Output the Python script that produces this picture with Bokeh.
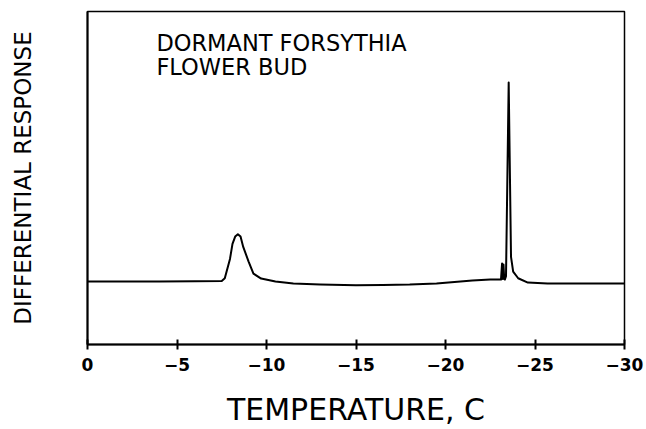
from bokeh.plotting import figure
from bokeh.models import Range1d, FixedTicker, Label
from bokeh.embed import file_html
from bokeh.resources import INLINE

# Temperature (C) and differential response (arbitrary units, 0-100 scale)
temperature = [0, -2, -4, -6, -7.5, -7.67, -7.96, -8.1, -8.25, -8.4, -8.55, -8.7, -9.0, -9.27,
               -9.7, -10.5, -11.5, -13, -15, -16.5, -18, -19.5, -20.5, -21.5, -22.5,
               -23.1, -23.16, -23.2, -23.24, -23.28, -23.32, -23.38, -23.53, -23.66,
               -23.78, -24.06, -24.6, -25.7, -27.5, -30]
response = [18.9, 18.9, 18.9, 19.0, 19.1, 19.9, 25.7, 30.2, 32.4, 33.1, 32.4, 29.3, 24.9, 21.3,
            19.8, 18.9, 18.3, 18.0, 17.8, 17.9, 18.0, 18.3, 18.8, 19.2, 19.5,
            19.5, 24.3, 19.7, 24.0, 19.7, 19.5, 20.5, 78.7, 26.3,
            21.9, 19.9, 18.6, 18.3, 18.3, 18.3]

tick_values = [0, -5, -10, -15, -20, -25, -30]
tick_labels = ["0", "\u22125", "\u221210", "\u221215", "\u221220", "\u221225", "\u221230"]

x_title = "TEMPERATURE, C"
y_title = "DIFFERENTIAL RESPONSE"
note_lines = ["DORMANT FORSYTHIA", "FLOWER BUD"]

FONT = "DejaVu Sans"

p = figure(width=646, height=429, output_backend="svg", toolbar_location=None,
           x_range=Range1d(0, -30), y_range=Range1d(0, 100),
           min_border_left=87, min_border_right=22, min_border_top=11, min_border_bottom=80)

p.line(temperature, response, line_color="black", line_width=2, line_join="round")

p.xgrid.visible = False
p.ygrid.visible = False
p.outline_line_color = "black"
p.outline_line_width = 1.5
p.outline_line_alpha = 1.0

xa = p.xaxis[0]
xa.ticker = FixedTicker(ticks=tick_values)
xa.major_label_overrides = {v: s for v, s in zip(tick_values, tick_labels)}
xa.minor_tick_line_color = None
xa.major_tick_in = 5
xa.major_tick_out = 5
xa.major_tick_line_width = 2
xa.major_tick_line_color = "black"
xa.axis_line_width = 2
xa.axis_line_color = "black"
xa.major_label_text_font = FONT
xa.major_label_text_font_style = "bold"
xa.major_label_text_font_size = "17px"
xa.major_label_text_color = "black"
xa.major_label_standoff = 8
xa.axis_label = x_title
xa.axis_label_text_font = FONT
xa.axis_label_text_font_style = "normal"
xa.axis_label_text_font_size = "30px"
xa.axis_label_text_color = "black"
xa.axis_label_standoff = 18

ya = p.yaxis[0]
ya.ticker = FixedTicker(ticks=[])
ya.minor_tick_line_color = None
ya.major_tick_line_color = None
ya.major_label_text_font_size = "0px"
ya.axis_line_width = 2
ya.axis_line_color = "black"
ya.axis_label = y_title
ya.axis_label_text_font = FONT
ya.axis_label_text_font_style = "normal"
ya.axis_label_text_font_size = "23px"
ya.axis_label_text_color = "black"
ya.axis_label_standoff = 52

for i, line in enumerate(note_lines):
    p.add_layout(Label(x=-3.85, y=94.5 - i * 7.4, text=line, text_font=FONT,
                       text_font_size="22.5px", text_color="black", text_baseline="top",
                       text_align="left"))

open("out.html", "w").write(file_html(p, INLINE))
